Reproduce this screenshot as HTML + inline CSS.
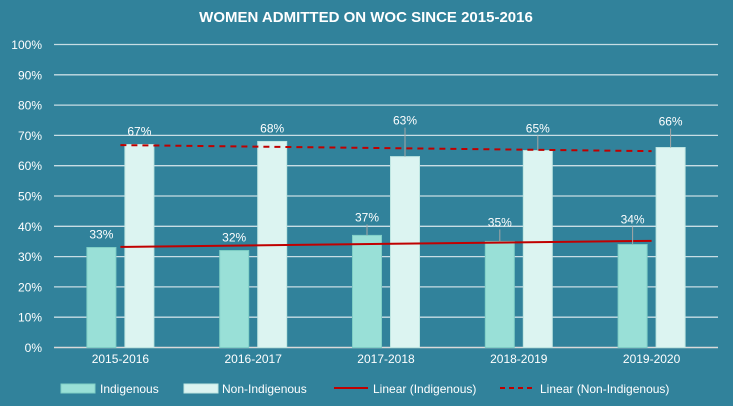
<!DOCTYPE html>
<html><head><meta charset="utf-8"><style>
body{margin:0;background:#31829b;}
svg{display:block;font-family:"Liberation Sans",Arial,sans-serif;}
</style></head><body>
<svg id="c" width="733" height="406">
<rect width="733" height="406" fill="#31829b"/>
<text x="366" y="22" text-anchor="middle" fill="#fff" font-size="15" font-weight="bold">WOMEN ADMITTED ON WOC SINCE 2015-2016</text>
<g id="grid"></g><g id="bars"></g><g id="trend"></g><g id="labels"></g>
<g id="legend" font-size="12" fill="#fff">
<rect x="61" y="384" width="34" height="9" fill="#99e0d7" stroke="#7fcfc6"/>
<text x="100" y="393" fill="#fff">Indigenous</text>
<rect x="184" y="384" width="34" height="9" fill="#dcf4f1" stroke="#bfe6e2"/>
<text x="222" y="393" fill="#fff">Non-Indigenous</text>
<line x1="334" y1="388" x2="368" y2="388" stroke="#c00000" stroke-width="2"/>
<text x="373" y="393" fill="#fff">Linear (Indigenous)</text>
<line x1="500" y1="388" x2="535" y2="388" stroke="#c00000" stroke-width="2" stroke-dasharray="5,4"/>
<text x="540" y="393" fill="#fff">Linear (Non-Indigenous)</text>
</g>
</svg>
<script>
const categories=["2015-2016","2016-2017","2017-2018","2018-2019","2019-2020"];
const indigenous=[33,32,37,35,34];
const nonIndigenous=[67,68,63,65,66];
const yTicks=[0,10,20,30,40,50,60,70,80,90,100];
// extra label raise (px) for manually-placed data labels
const raiseIndig=[0,0,5,6,12];
const raiseNon=[0,0,23,9,13];
const NS="http://www.w3.org/2000/svg";
const L=54,R=718,T=44.5,B=347.5;
const band=(R-L)/categories.length;
const y=v=>B-(B-T)*v/100;
const xc=i=>L+band*(i+0.5);
function mk(p,tag,a,txt){const e=document.createElementNS(NS,tag);for(const k in a)e.setAttribute(k,a[k]);if(txt!=null)e.textContent=txt;document.getElementById(p).appendChild(e);return e;}
yTicks.forEach(t=>{
 const l=mk('grid','line',{x1:L,x2:R,y1:y(t),y2:y(t),stroke:t===0?'#d9d9d9':'#c8dde4','stroke-width':t===0?1.5:1.3});
 
 
 const tx=mk('grid','text',{x:L-12,y:y(t)+4.5,'text-anchor':'end',fill:'#fff','font-size':12},t+'%');
 
 
});
const bw=29,gap=9;
function label(cx,top,raise,txt,name){
 const ty=top-9-raise;
 if(raise>4){
  const ll=mk('labels','line',{x1:cx,x2:cx,y1:ty+3,y2:top,stroke:'#a6a6a6','stroke-width':1});
  
  
 }
 const t=mk('labels','text',{x:cx,y:ty,'text-anchor':'middle',fill:'#fff','font-size':12},txt);
 
 
}
categories.forEach((c,i)=>{
 const cx=xc(i);
 const x1=cx-gap/2-bw,x2=cx+gap/2;
 const b1=mk('bars','rect',{x:x1,y:y(indigenous[i]),width:bw,height:B-y(indigenous[i]),fill:'#99e0d7',stroke:'#7fcfc6'});
 
 
 const b2=mk('bars','rect',{x:x2,y:y(nonIndigenous[i]),width:bw,height:B-y(nonIndigenous[i]),fill:'#dcf4f1',stroke:'#bfe6e2'});
 
 
 label(x1+bw/2,y(indigenous[i]),raiseIndig[i],indigenous[i]+'%','indigenous-'+c);
 label(x2+bw/2,y(nonIndigenous[i]),raiseNon[i],nonIndigenous[i]+'%','non-indigenous-'+c);
 const xl=mk('labels','text',{x:cx,y:363,'text-anchor':'middle',fill:'#fff','font-size':12},c);
 
 
});
function fit(v){const n=v.length;let sx=0,sy=0,sxy=0,sxx=0;v.forEach((a,i)=>{sx+=i;sy+=a;sxy+=i*a;sxx+=i*i;});const m=(n*sxy-sx*sy)/(n*sxx-sx*sx);const b=(sy-m*sx)/n;return [b,b+m*(n-1)];}
const f1=fit(indigenous),f2=fit(nonIndigenous),n=categories.length-1;
const l1=mk('trend','line',{x1:xc(0),x2:xc(n),y1:y(f1[0]),y2:y(f1[1]),stroke:'#c00000','stroke-width':2});


const l2=mk('trend','line',{x1:xc(0),x2:xc(n),y1:y(f2[0]),y2:y(f2[1]),stroke:'#c00000','stroke-width':2,'stroke-dasharray':'6,5'});


</script>
</body></html>
